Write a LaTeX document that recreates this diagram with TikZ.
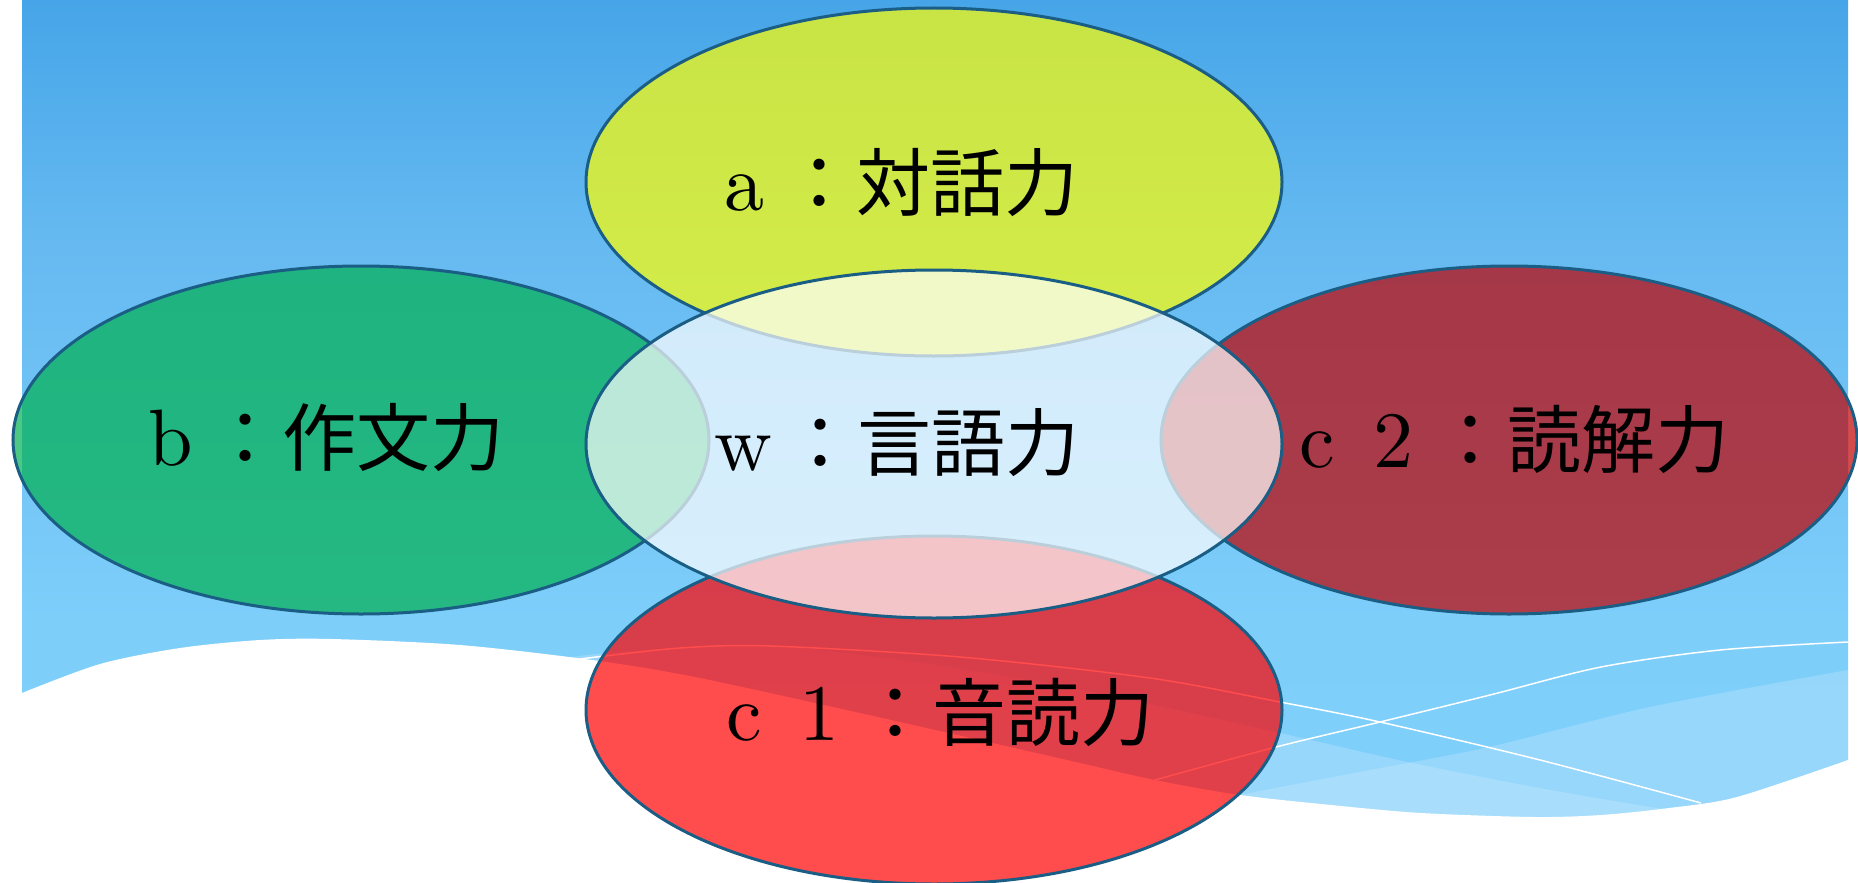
\documentclass[tikz,border=0pt]{standalone}
\usepackage{fontspec}
\newfontfamily\jpfont{Noto Sans CJK JP}
\newfontfamily\latfont{lmroman10-regular}[Extension=.otf]
\usetikzlibrary{shapes.geometric}
\definecolor{bgA}{HTML}{46A5E8}
\definecolor{bgB}{HTML}{66BAF1}
\definecolor{bgC}{HTML}{7ECEFA}
\definecolor{bgD}{HTML}{80D0FC}
\definecolor{rimblue}{HTML}{1B5E85}
\definecolor{cYellow}{HTML}{FFFF00}
\definecolor{cGreen}{HTML}{00B050}
\definecolor{cDarkRed}{HTML}{C00000}
\definecolor{cRed}{HTML}{FF0000}
\pgfdeclareverticalshading{skyshade}{100bp}{color(0bp)=(bgD); color(25bp)=(bgD); color(39.9bp)=(bgC); color(61.1bp)=(bgB); color(75bp)=(bgA); color(100bp)=(bgA)}
\newcommand\mylat{\latfont\fontsize{80}{90}\selectfont}
\newcommand\myjp{\jpfont\fontsize{74}{80}\selectfont}
\tikzset{
  blob/.style={ellipse, draw=rimblue, line width=3pt, fill opacity=0.7,
    minimum width=696pt, minimum height=348pt, inner sep=0pt},
  lab/.style={anchor=base west, inner sep=0pt, text=black},
  wline/.style={draw=white, line width=1.5pt},
  band/.style={fill=white, fill opacity=0.18}
}
\begin{document}
\begin{tikzpicture}[x=1pt,y=-1pt]
\useasboundingbox (0,0) rectangle (1858,883);
\fill[white] (0,0) rectangle (1858,883);
\shade[shading=skyshade] (22,0) rectangle (1848,883);
% translucent bands
\fill[band] plot[smooth] coordinates {(533,662) (628,651) (770,646) (900,660) (1030,680) (1150,704) (1280,733) (1412,763) (1550,790) (1669,810)} -- (1669,883) -- (533,883) -- cycle;
\fill[band] plot[smooth] coordinates {(1150,815) (1240,795) (1370,770) (1489,747) (1650,707) (1848,670)} -- (1848,883) -- (1150,883) -- cycle;
% thin white lines
\draw[wline] plot[smooth] coordinates {(580,659) (680,648) (770,646) (960,657) (1150,678) (1280,702) (1380,722) (1540,760) (1701,803)};
\draw[wline] plot[smooth] coordinates {(1155,780) (1276,747) (1380,722) (1490,695) (1601,667) (1720,650) (1848,642)};
% white wave
\fill[white] (0,883) -- (0,693) -- plot[smooth] coordinates {(22,693) (100,664) (180,648) (260,640) (332,639) (460,645) (592,660) (700,678) (900,722) (1067,760) (1155,780) (1240,795) (1331,805) (1421,813) (1534,817) (1601,815) (1669,808) (1737,797) (1848,760)} -- (1858,760) -- (1858,883) -- cycle;
% ellipses
\node[blob, fill=cYellow] (a) at (934,182) {};
\node[blob, fill=cGreen] (b) at (361,440) {};
\node[blob, fill=cDarkRed] (c2) at (1509,440) {};
\node[blob, fill=cRed] (c1) at (934,710) {};
\node[blob, fill=white] (w) at (934,444) {};
% labels
\node[lab] (ta) at (724,210) {{\mylat\makebox[58pt][l]{a}}{\myjp ：対話力}};
\node[lab] (tw) at (714,470) {{\mylat\makebox[69pt][l]{w}}{\myjp ：言語力}};
\node[lab] (tb) at (148,465) {{\mylat\makebox[60pt][l]{b}}{\myjp ：作文力}};
\node[lab] (tc2) at (1299,467) {{\mylat\makebox[74pt][l]{c}\makebox[60pt][l]{2}}{\myjp ：読解力}};
\node[lab] (tc1) at (726,740) {{\mylat\makebox[73pt][l]{c}\makebox[59pt][l]{1}}{\myjp ：音読力}};
\end{tikzpicture}
\end{document}
